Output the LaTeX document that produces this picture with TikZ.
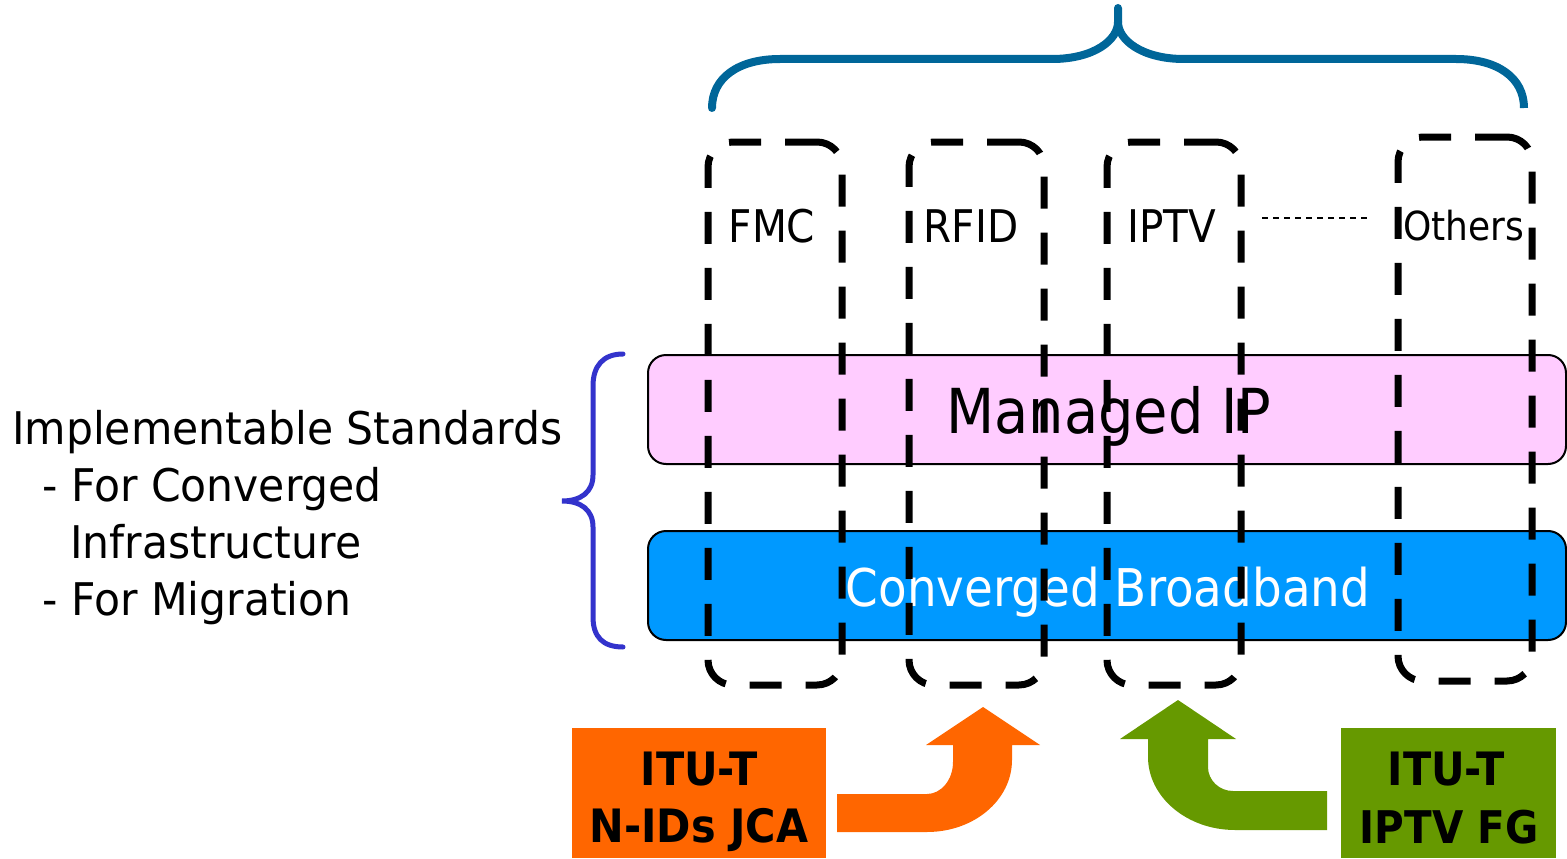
\documentclass[tikz,border=0pt]{standalone}
\usepackage{fontspec}
\setmainfont{DejaVu Sans}[FakeStretch=0.9]
\newfontfamily\sidefont{DejaVu Sans}[FakeStretch=0.945]
\definecolor{bandpink}{HTML}{FFCCFF}
\definecolor{bandblue}{HTML}{0099FF}
\definecolor{njcaorange}{HTML}{FF6600}
\definecolor{iptvgreen}{HTML}{669900}
\definecolor{topbrace}{HTML}{006699}
\definecolor{sidebrace}{HTML}{3333CC}
\tikzset{
  band/.style={draw=black, line width=2, rounded corners=18, minimum width=918, minimum height=109, inner sep=0},
  colbox/.style={draw=black, line width=7, dash pattern=on 32pt off 24pt, rounded corners=25, minimum width=134, minimum height=543, inner sep=0},
  txt/.style={inner sep=0, anchor=base},
  txtw/.style={inner sep=0, anchor=base west},
  sidetext/.style={txtw, font=\sidefont\fontsize{45}{54}\selectfont},
  collabel/.style={txt, font=\fontsize{45}{54}\selectfont},
  badge/.style={inner sep=0, minimum height=130},
  badgetext/.style={txt, font=\fontsize{46}{55}\selectfont\bfseries},
}
\begin{document}
\begin{tikzpicture}[x=1pt, y=-1pt]
\useasboundingbox (0,0) rectangle (1567,859);

% horizontal layers
\node[band, fill=bandpink] (mip) at (1107,409.5) {};
\node[band, fill=bandblue] (cbb) at (1107,585.5) {};
\node[txt, font=\fontsize{62}{70}\selectfont] (miptext) at (1109,433) {Managed IP};
\node[txt, font=\fontsize{52}{60}\selectfont, text=white] (cbbtext) at (1108,606) {Converged Broadband};

% vertical service columns
\node[colbox] (fmcbox) at (775,413.5) {};
\node[colbox, minimum width=135] (rfidbox) at (976.5,413.5) {};
\node[colbox] (iptvbox) at (1174,413.5) {};
\node[colbox, minimum height=544] (othbox) at (1465,409) {};

\node[collabel] (fmc) at (772,242) {FMC};
\node[collabel] (rfid) at (971,242) {RFID};
\node[collabel] (iptv) at (1172,242) {IPTV};
\node[txt, font=\fontsize{40}{48}\selectfont] (others) at (1464,240) {Others};
\coordinate (dotsL) at (1262,218);
\coordinate (dotsR) at (1368,218);
\draw[line width=1.5, dash pattern=on 6pt off 5pt] (dotsL) -- (dotsR);

% brace over the columns
\coordinate (tbL) at (712,108);
\coordinate (tbR) at (1524,108);
\coordinate (tbTip) at (1118,8);
\draw[topbrace, line width=8, line cap=round]
  (tbL) .. controls (712,78) and (738,59) .. (780,59) -- (1052,59)
  .. controls (1094,59) and (1118,40) .. (1118,22) -- (tbTip);
\draw[topbrace, line width=8]
  (1118,22) .. controls (1118,40) and (1142,59) .. (1184,59) -- (1456,59)
  .. controls (1498,59) and (1524,78) .. (tbR);

% brace beside the layers
\coordinate (sbTop) at (623,354);
\coordinate (sbTip) at (562,501);
\coordinate (sbBot) at (623,647);
\draw[sidebrace, line width=5, line cap=round]
  (sbTop) .. controls (603,354) and (593,366) .. (593,386) -- (593,475)
  .. controls (593,492) and (581,501) .. (sbTip)
  .. controls (581,501) and (593,510) .. (593,527) -- (593,617)
  .. controls (593,637) and (603,647) .. (sbBot);

\node[sidetext] (impl) at (12,444) {Implementable Standards};
\node[sidetext] (conv) at (42,501) {- For Converged};
\node[sidetext] (infra) at (70,558) {Infrastructure};
\node[sidetext] (migr) at (42,615) {- For Migration};

% contributing groups
\node[badge, fill=njcaorange, minimum width=254] (nids) at (699,793) {};
\node[badgetext] (nids1) at (699,785) {ITU-T};
\node[badgetext] (nids2) at (699,842) {N-IDs JCA};
\node[badge, fill=iptvgreen, minimum width=215] (iptvfg) at (1448.5,793) {};
\node[badgetext] (iptvfg1) at (1446,785) {ITU-T};
\node[badgetext, font=\fontsize{45}{55}\selectfont\bfseries] (iptvfg2) at (1449,843) {IPTV FG};

% bent block arrows
\fill[njcaorange] (837,794) -- (927,794) .. controls (941,794) and (953,780) .. (953,762)
  -- (953,745) -- (926,745) -- (983,707) -- (1040,745) -- (1012,745) -- (1012,760)
  .. controls (1012,800) and (974,832) .. (927,832) -- (837,832) -- cycle;
\fill[iptvgreen] (1327,791) -- (1233,791) .. controls (1219,791) and (1208,780) .. (1208,767)
  -- (1208,739) -- (1236,739) -- (1178,700) -- (1120,739) -- (1148,739) -- (1148,757)
  .. controls (1148,797) and (1187,830) .. (1235,830) -- (1327,830) -- cycle;
\end{tikzpicture}
\end{document}
